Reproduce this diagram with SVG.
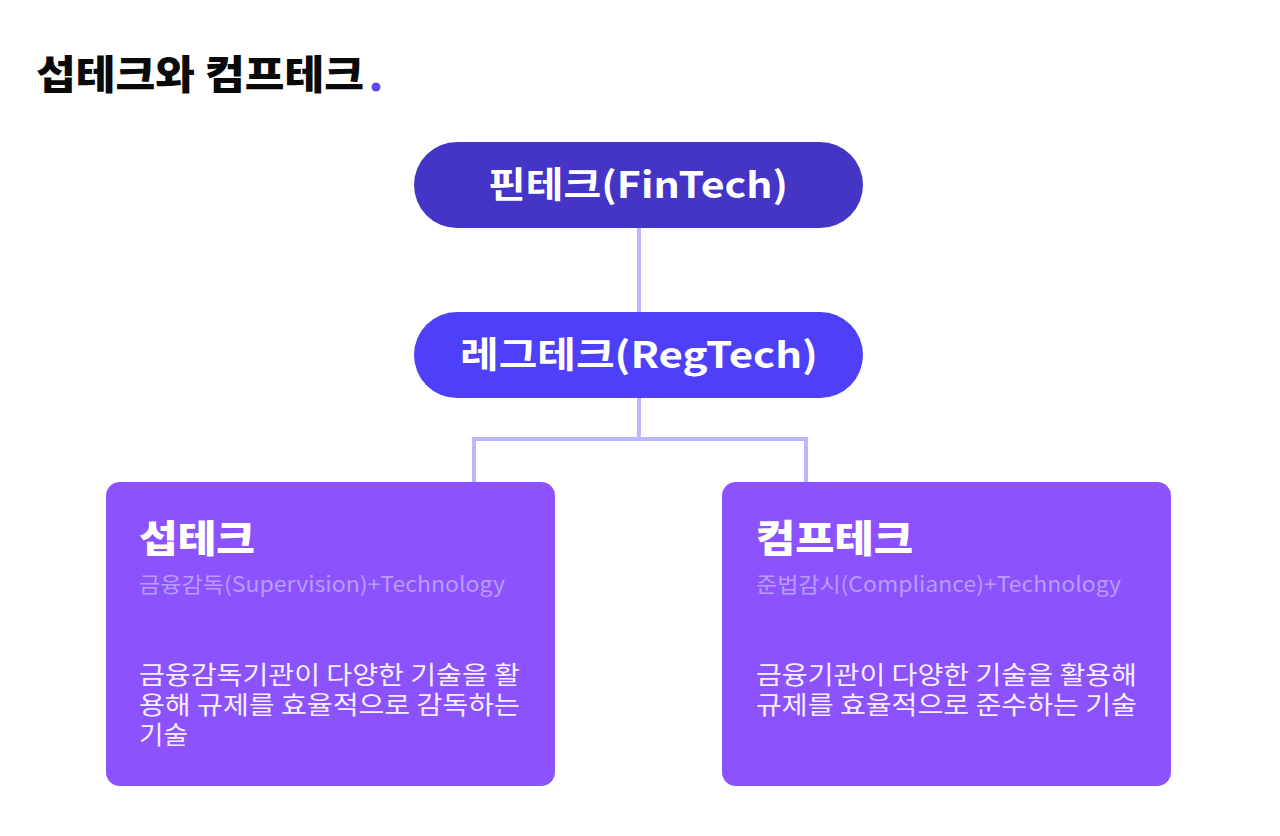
<svg xmlns="http://www.w3.org/2000/svg" width="1280" height="836" viewBox="0 0 1280 836">
<style>
text { font-family: "Noto Sans CJK KR", "Noto Sans", sans-serif; }
.title { font-size: 40px; font-weight: 900; fill: #0a0a0a; }
.pill { font-size: 36px; font-weight: 700; fill: #ffffff; text-anchor: middle; }
.bt { font-size: 38px; font-weight: 800; fill: #ffffff; }
.sub { font-size: 21px; font-weight: 400; fill: #b79dff; }
.desc { font-size: 25px; font-weight: 400; fill: #f4eeff; }
.conn { fill: none; stroke: #bab6ff; stroke-width: 4; }
</style>
<rect width="1280" height="836" fill="#ffffff"/>
<g id="title">
<text class="title" x="36" y="89" textLength="328" lengthAdjust="spacingAndGlyphs">섭테크와 컴프테크</text>
<circle cx="376" cy="87" r="4.5" fill="#5b4cf5"/>
</g>
<g id="connectors">
<line class="conn" x1="639" y1="228" x2="639" y2="312"/>
<path class="conn" d="M639 398 V439 M474 482 V439 H806 V482"/>
</g>
<g id="fintech">
<rect x="414" y="142" width="449" height="86" rx="43" fill="#4435c6"/>
<text class="pill" x="638" y="198" textLength="300" lengthAdjust="spacingAndGlyphs">핀테크(FinTech)</text>
</g>
<g id="regtech">
<rect x="414" y="312" width="449" height="86" rx="43" fill="#4d40f8"/>
<text class="pill" x="639" y="368" textLength="358" lengthAdjust="spacingAndGlyphs">레그테크(RegTech)</text>
</g>
<g id="suptech">
<rect x="106" y="482" width="449" height="304" rx="14" fill="#8b52fe"/>
<text class="bt" x="139" y="552" textLength="116" lengthAdjust="spacingAndGlyphs">섭테크</text>
<text class="sub" x="139" y="592" textLength="366" lengthAdjust="spacingAndGlyphs">금융감독(Supervision)+Technology</text>
<text class="desc"><tspan x="139" y="684" textLength="381" lengthAdjust="spacingAndGlyphs">금융감독기관이 다양한 기술을 활</tspan><tspan x="139" y="714" textLength="381" lengthAdjust="spacingAndGlyphs">용해 규제를 효율적으로 감독하는</tspan><tspan x="139" y="744" textLength="49" lengthAdjust="spacingAndGlyphs">기술</tspan></text>
</g>
<g id="comptech">
<rect x="722" y="482" width="449" height="304" rx="14" fill="#8b52fe"/>
<text class="bt" x="756" y="552" textLength="157" lengthAdjust="spacingAndGlyphs">컴프테크</text>
<text class="sub" x="756" y="592" textLength="365" lengthAdjust="spacingAndGlyphs">준법감시(Compliance)+Technology</text>
<text class="desc"><tspan x="756" y="684" textLength="381" lengthAdjust="spacingAndGlyphs">금융기관이 다양한 기술을 활용해</tspan><tspan x="756" y="714" textLength="381" lengthAdjust="spacingAndGlyphs">규제를 효율적으로 준수하는 기술</tspan></text>
</g>
</svg>
